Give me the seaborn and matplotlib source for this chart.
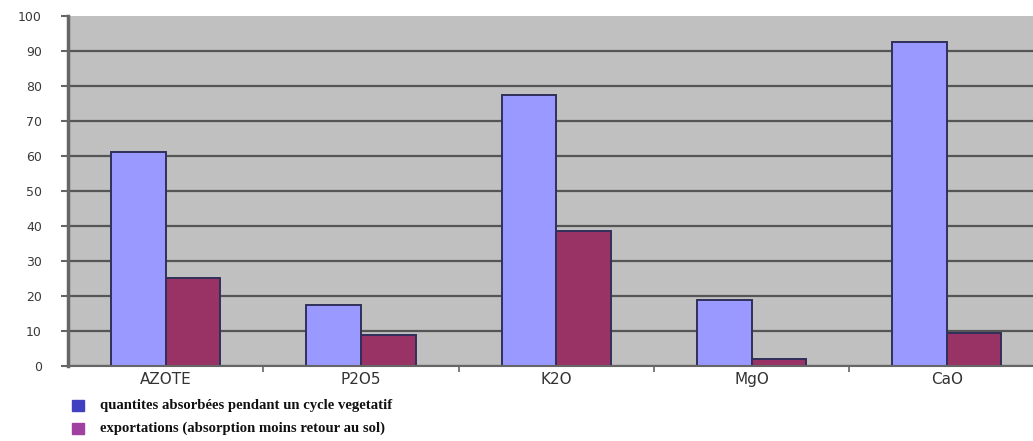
import matplotlib
matplotlib.use("Agg")
import matplotlib.pyplot as plt
import matplotlib.patches as mpatches
import seaborn as sns
import pandas as pd

categories = ["AZOTE", "P2O5", "K2O", "MgO", "CaO"]
absorbees = [61, 17.5, 77.5, 19, 92.5]
exportations = [25, 9, 38.5, 2, 9.5]
series_labels = [
    "quantites absorbées pendant un cycle vegetatif",
    "exportations (absorption moins retour au sol)",
]
y_ticks = list(range(0, 101, 10))

df = pd.DataFrame({
    "element": categories * 2,
    "valeur": absorbees + exportations,
    "serie": [series_labels[0]] * len(categories) + [series_labels[1]] * len(categories),
})

sns.set_style("white")
plt.rcParams["font.family"] = ["DejaVu Sans"]

fig = plt.figure(figsize=(10.33, 4.41), dpi=100)
ax = fig.add_axes([0.066, 0.170, 0.945, 0.794])
ax.set_facecolor("#c0c0c0")

sns.barplot(data=df, x="element", y="valeur", hue="serie",
            palette=["#9999ff", "#993366"], width=0.56, ax=ax,
            edgecolor="#30305a", linewidth=1.4, legend=False, saturation=1)

ax.set_ylim(0, 100)
ax.set_xlim(-0.5, 4.5)
ax.set_yticks(y_ticks)
ax.yaxis.grid(True, color="#555555", linewidth=1.6)
ax.get_ygridlines()[-1].set_visible(False)
ax.set_axisbelow(True)
ax.set_xlabel("")
ax.set_ylabel("")

for side in ["top", "right"]:
    ax.spines[side].set_visible(False)
ax.spines["left"].set_color("#666666")
ax.spines["left"].set_linewidth(2.5)
ax.spines["bottom"].set_color("#666666")
ax.spines["bottom"].set_linewidth(1.5)

ax.tick_params(axis="y", length=5, width=1.5, color="#666666", pad=14,
               labelsize=9, labelcolor="#3a3a3a", direction="out", left=True)
ax.tick_params(axis="x", length=0, labelsize=11, labelcolor="#333333", pad=4)
ax.set_xticks(range(len(categories)), labels=categories)
# small separators between categories on the x axis
ax.set_xticks([0.5, 1.5, 2.5, 3.5], minor=True)
ax.tick_params(axis="x", which="minor", length=4, width=1.2, color="#666666", direction="out", bottom=True)

# legend below the chart
legend_colors = ["#4040c0", "#a040a0"]
for i, (lab, col) in enumerate(zip(series_labels, legend_colors)):
    y = 1 - (405 + 23 * i) / 441
    fig.patches.append(mpatches.Rectangle((0.070, y - 0.013), 0.0116, 0.025,
                                          transform=fig.transFigure, color=col))
    fig.text(0.097, y, lab, fontsize=10.6, fontweight="bold",
             family=["Liberation Serif"], va="center", color="#111111")

fig.savefig("out.png", dpi=100)
